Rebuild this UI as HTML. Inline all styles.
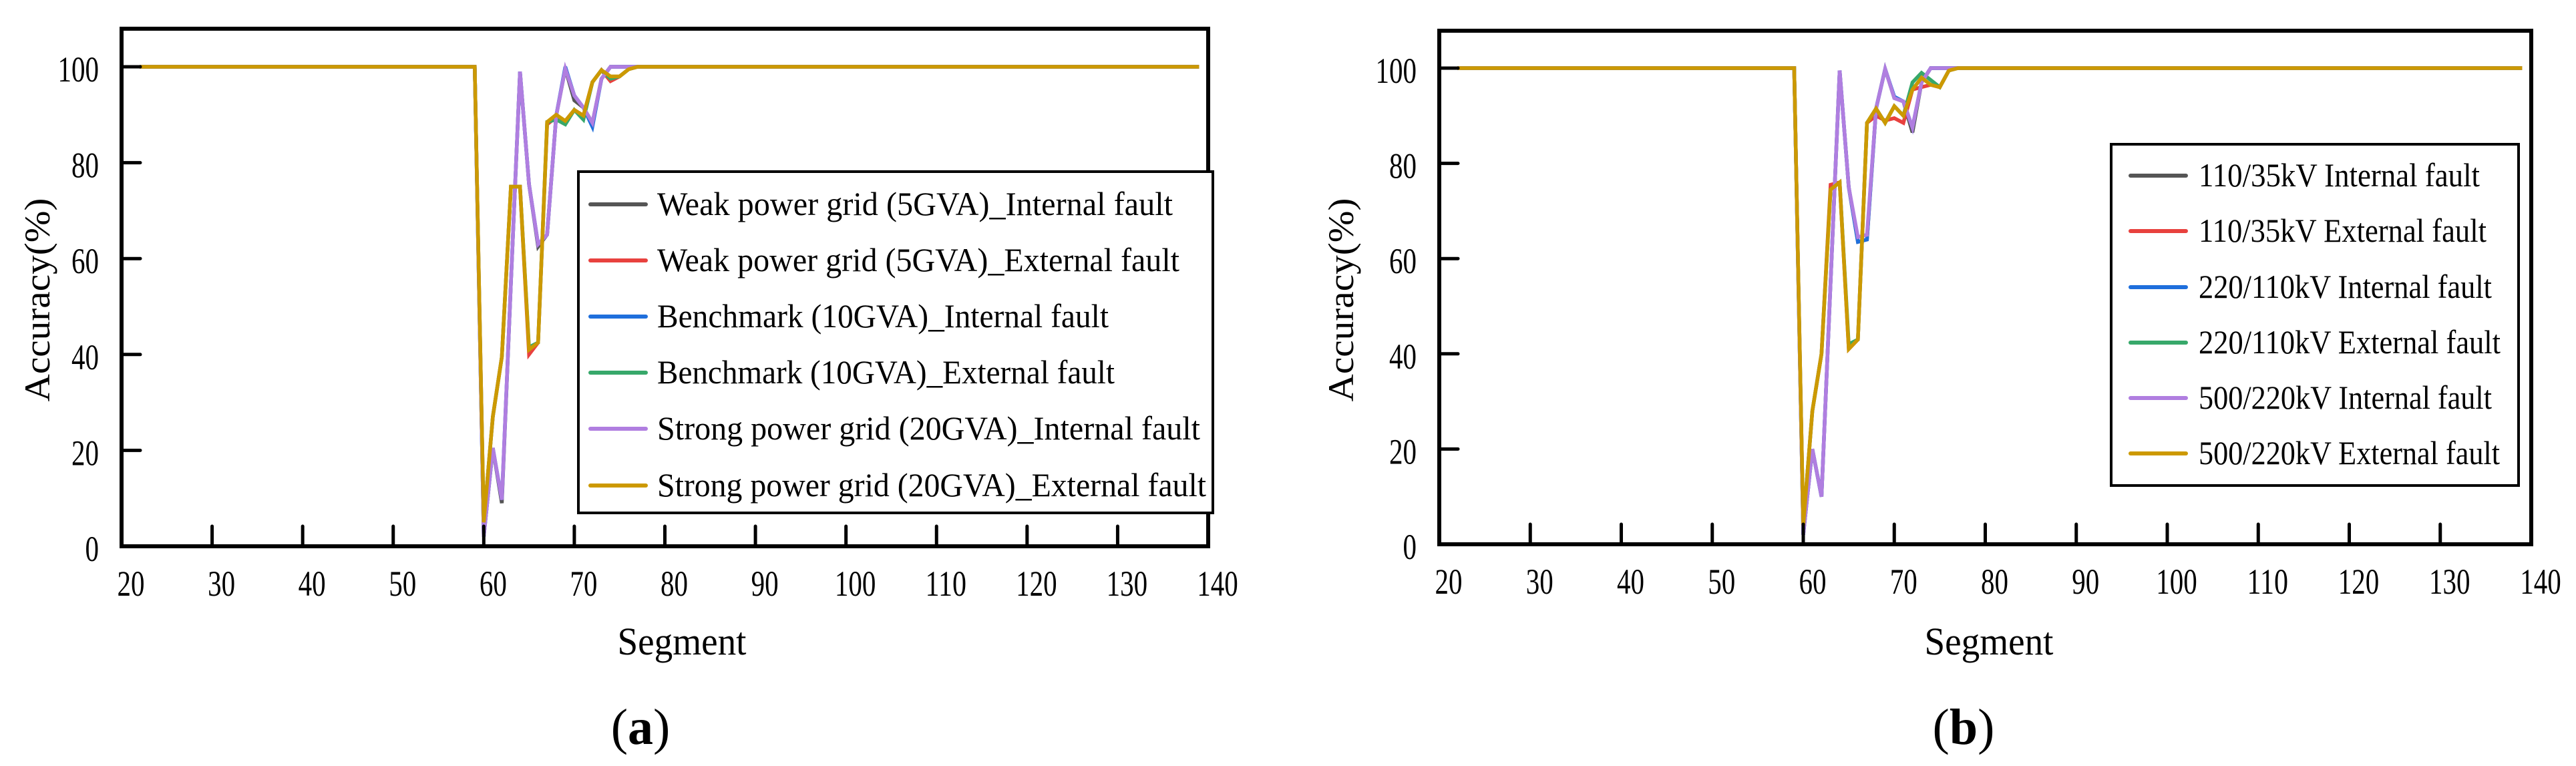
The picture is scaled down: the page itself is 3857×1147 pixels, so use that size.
<!DOCTYPE html>
<html><head><meta charset="utf-8">
<style>
html,body{margin:0;padding:0;background:#fff;}
svg{display:block;}
text{font-family:"Liberation Serif",serif;fill:#000;}
</style></head>
<body>
<svg id="fig" width="3857" height="1147" viewBox="0 0 3857 1147" xmlns="http://www.w3.org/2000/svg"></svg>
<script>
const segments = [22,59,60,61,62,63,64,65,66,67,68,69,70,71,72,73,74,75,76,77,139];
const xTicks = [20,30,40,50,60,70,80,90,100,110,120,130,140];
const yTicks = [0,20,40,60,80,100];
const seriesColors = ["#555555","#e8413e","#1f6fdc","#37a86a","#b07ee0","#cc9900"];

const aNames = ["Weak power grid (5GVA)_Internal fault","Weak power grid (5GVA)_External fault","Benchmark (10GVA)_Internal fault","Benchmark (10GVA)_External fault","Strong power grid (20GVA)_Internal fault","Strong power grid (20GVA)_External fault"];
const aWeakInt   = [100,100,2,20.5,9,55,99,75.5,62.5,65,89.8,99.6,93,91.5,88.3,97.5,100,100,100,100,100];
const aWeakExt   = [100,100,5,27,39.5,75,75,40,42.5,88,89.5,88.7,91,89.8,96.8,99.3,97,98,99.5,100,100];
const aBenchInt  = [100,100,2,20.5,9.7,55,99,75.5,63,65,89.8,100,94,91.5,87.5,97.5,100,100,100,100,100];
const aBenchExt  = [100,100,5,27,39.5,75,75,41.5,42.5,88.5,89,88,91,89,96.8,99.3,97.5,98,99.5,100,100];
const aStrongInt = [100,100,2,20.5,9.7,55,99,75.5,63,65,89.8,99.6,94,91.5,88.3,97.5,100,100,100,100,100];
const aStrongExt = [100,100,5,27,39.5,75,75,41,42.5,88.5,90,88.7,91,89.8,96.8,99.3,98,98,99.5,100,100];

const bNames = ["110/35kV Internal fault","110/35kV External fault","220/110kV Internal fault","220/110kV External fault","500/220kV Internal fault","500/220kV External fault"];
const b110Int = [100,100,2,20,10,55,99.5,75,63.5,64,91.5,99.8,93.7,93,86.5,97,100,100,100,100,100];
const b110Ext = [100,100,4,28,40,75.5,76,41,43,88.5,90,89,89.5,88.5,95.5,96,96.5,96,99.5,100,100];
const b220Int = [100,100,2,20,10,55,99.5,75,63.5,64,91.5,99.8,94,93,87.5,97,100,100,100,100,100];
const b220Ext = [100,100,4,28,40,74.5,76,42,43,88.5,91.5,88.5,92,90,97,99,97.5,96,99.5,100,100];
const b500Int = [100,100,2,20,10,55,99.5,75,64.5,65,91.5,99.8,93.7,93,87.5,97,100,100,100,100,100];
const b500Ext = [100,100,4,28,40,74.5,76,41,43,88.5,91.5,88.5,92,90,95.5,98,96.5,96,99.5,100,100];

const NS = "http://www.w3.org/2000/svg";
const svg = document.getElementById("fig");
function mk(tag, attrs, parent){
  const e = document.createElementNS(NS, tag);
  for (const k in attrs) e.setAttribute(k, attrs[k]);
  (parent||svg).appendChild(e);
  return e;
}

function panel(cfg){
  const g = mk("g", {});
  
  
  const X = v => cfg.x0 + (v-20)/120*(cfg.x1-cfg.x0);
  const Y = v => cfg.y0 - v/100*(cfg.y0-cfg.y100);

  cfg.series.forEach((vals,i)=>{
    const d = segments.map((s,j)=>(j?"L":"M")+X(s).toFixed(1)+","+Y(vals[j]).toFixed(1)).join(" ");
    const p = mk("path", {d:d, fill:"none", stroke:seriesColors[i], "stroke-width":5.5, "stroke-linejoin":"miter"}, g);
    
    
  });

  xTicks.forEach(t=>{
    if (t>20 && t<140){
      const l = mk("line", {x1:X(t), x2:X(t), y1:cfg.y0, y2:cfg.y0-30, stroke:"#000","stroke-width":5,"stroke-linecap":"round"}, g);
      
      
    }
    const s = String(t);
    const tx = mk("text", {x:X(t)+14, y:cfg.y0+74, "font-size":54, "text-anchor":"middle", textLength:s.length*20.5, lengthAdjust:"spacingAndGlyphs"}, g);
    tx.textContent = s;
    
    
  });
  yTicks.forEach(t=>{
    if (t>0){
      const l = mk("line", {x1:cfg.x0, x2:cfg.x0+28, y1:Y(t), y2:Y(t), stroke:"#000","stroke-width":5,"stroke-linecap":"round"}, g);
      
      
    }
    const s = String(t);
    const tx = mk("text", {x:cfg.x0-34, y:Y(t)+22, "font-size":54, "text-anchor":"end", textLength:s.length*20.5, lengthAdjust:"spacingAndGlyphs"}, g);
    tx.textContent = s;
    
    
  });

  const fr = mk("rect", {x:cfg.x0, y:cfg.top, width:cfg.x1-cfg.x0, height:cfg.y0-cfg.top, fill:"none", stroke:"#000","stroke-width":6}, g);
  
  

  const lg = mk("g", {}, g);
  
  
  const lb = mk("rect", {x:cfg.lx0, y:cfg.ly0, width:cfg.lx1-cfg.lx0, height:cfg.ly1-cfg.ly0, fill:"#fff", stroke:"#000","stroke-width":4}, lg);
  
  
  cfg.names.forEach((n,i)=>{
    const yy = cfg.ly[i];
    const ln = mk("line", {x1:cfg.lline[0], x2:cfg.lline[1], y1:yy, y2:yy, stroke:seriesColors[i], "stroke-width":6, "stroke-linecap":"round"}, lg);
    
    
    const t = mk("text", {x:cfg.ltx, y:yy+16, "font-size":50, textLength:cfg.lw[i], lengthAdjust:"spacingAndGlyphs"}, lg);
    t.textContent = n;
    
    
  });

  const yt = mk("text", {x:0, y:0, "font-size":54, "text-anchor":"middle", textLength:305, lengthAdjust:"spacingAndGlyphs", transform:"translate("+(cfg.yTitleX)+",449) rotate(-90)"}, g);
  yt.textContent = "Accuracy(%)";
  
  
  const xt = mk("text", {x:cfg.xTitleX, y:980, "font-size":58, "text-anchor":"middle", textLength:193, lengthAdjust:"spacingAndGlyphs"}, g);
  xt.textContent = "Segment";
  
  
  const cap = mk("text", {x:cfg.capX, y:1114, "font-size":76, "text-anchor":"middle"}, g);
  
  
  cap.appendChild(document.createTextNode("("));
  const b = mk("tspan", {"font-weight":"bold"}, cap);
  b.textContent = cfg.letter;
  cap.appendChild(document.createTextNode(")"));
}

panel({id:"panel-a", x0:182, x1:1809, y0:818, y100:100, top:43,
  series:[aWeakInt,aWeakExt,aBenchInt,aBenchExt,aStrongInt,aStrongExt], names:aNames,
  lx0:866, lx1:1816, ly0:257, ly1:768, ly:[306,390,474,558,642,727], lline:[884,967], ltx:984,
  lw:[772,782,676,685,813,822], yTitleX:74, xTitleX:1021, capX:959, letter:"a"});
panel({id:"panel-b", x0:2155, x1:3790, y0:815, y100:102, top:46,
  series:[b110Int,b110Ext,b220Int,b220Ext,b500Int,b500Ext], names:bNames,
  lx0:3161, lx1:3771, ly0:216, ly1:727, ly:[263,346,430,513,596,679], lline:[3190,3273], ltx:3292,
  lw:[421,431,439,452,439,451], yTitleX:2026, xTitleX:2978, capX:2940, letter:"b"});
</script>
</body></html>
